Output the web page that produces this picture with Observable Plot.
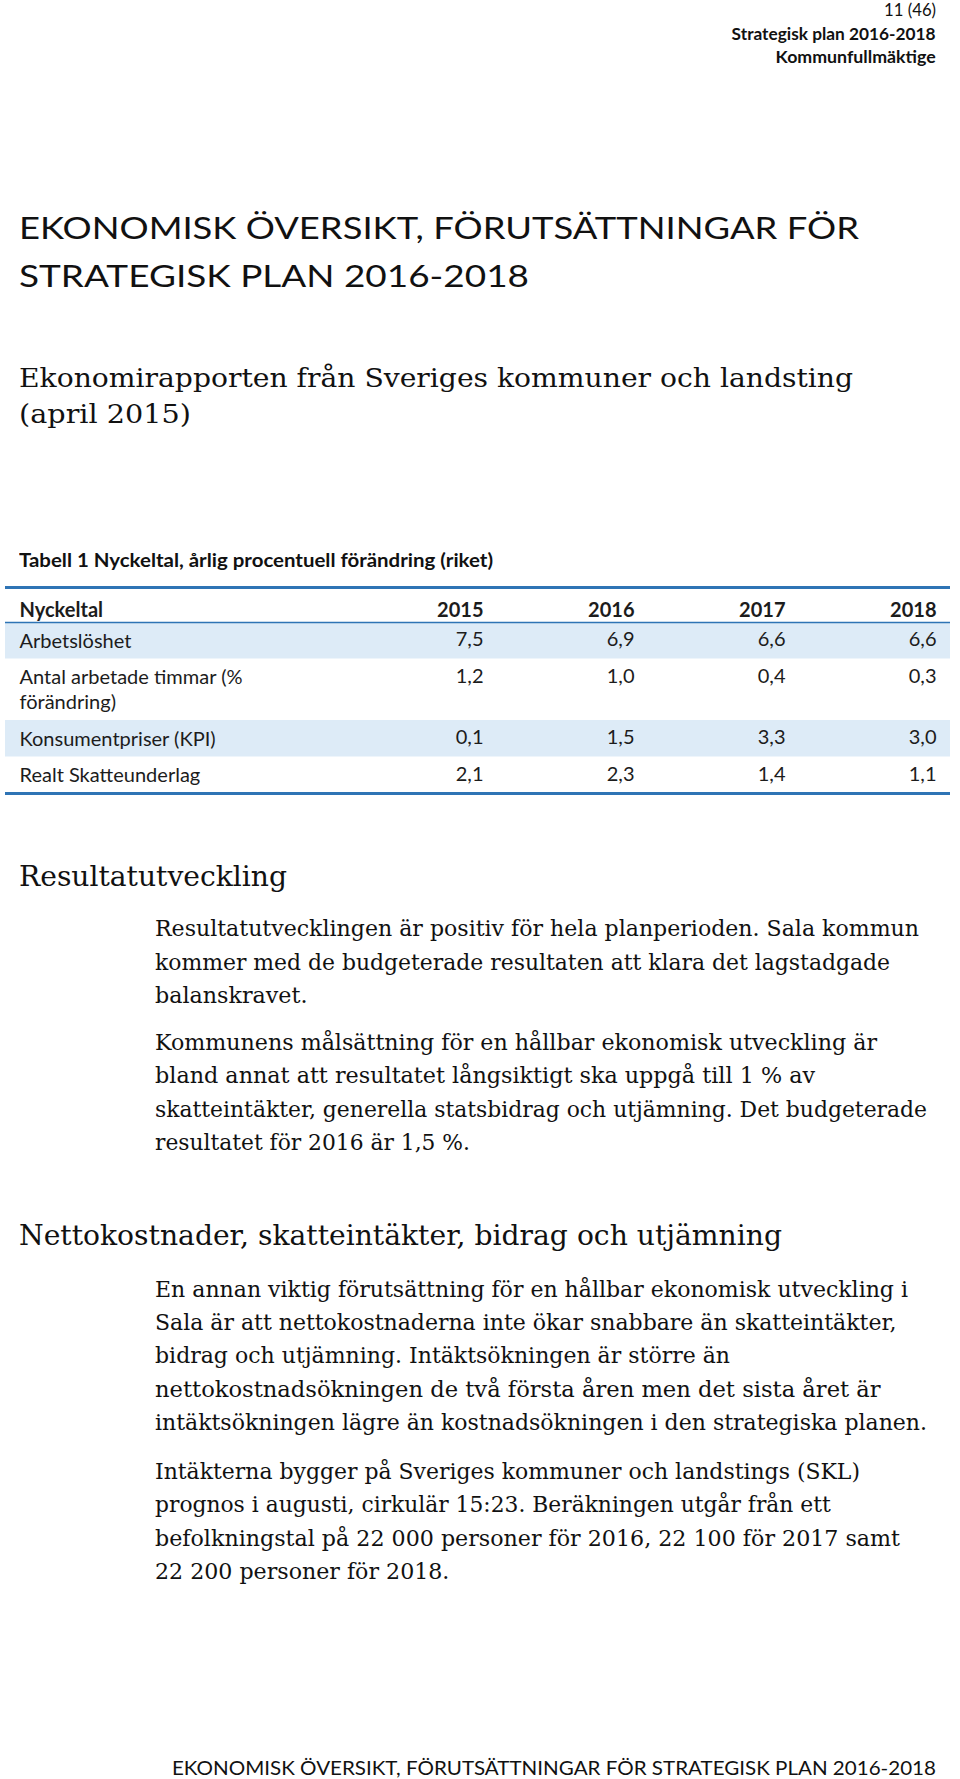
<!DOCTYPE html>
<html><head><meta charset="utf-8">
<script src="https://cdn.jsdelivr.net/npm/d3@7"></script>
<script src="https://cdn.jsdelivr.net/npm/@observablehq/plot@0.6"></script>
<style>
html,body{margin:0;padding:0;background:#fff;}
#page{position:relative;width:960px;height:1779px;overflow:hidden;background:#fff;}
.ln{position:absolute;white-space:pre;color:#111;margin:0;padding:0;}
#table{position:absolute;left:0;top:580px;width:960px;}
</style></head><body><div id="page"><div id="table"></div></div>
<script>
// ---------- data ----------
const pageHeader = ["11 (46)", "Strategisk plan 2016-2018", "Kommunfullmäktige"];
const titleLines = ["EKONOMISK ÖVERSIKT, FÖRUTSÄTTNINGAR FÖR", "STRATEGISK PLAN 2016-2018"];
const subtitleLines = ["Ekonomirapporten från Sveriges kommuner och landsting", "(april 2015)"];
const tableCaption = "Tabell 1 Nyckeltal, årlig procentuell förändring (riket)";
const headerLabel = "Nyckeltal";
const years = ["2015", "2016", "2017", "2018"];
const indicators = ["Arbetslöshet", "Antal arbetade timmar (%\nförändring)", "Konsumentpriser (KPI)", "Realt Skatteunderlag"];
const values2015 = [7.5, 1.2, 0.1, 2.1];
const values2016 = [6.9, 1.0, 1.5, 2.3];
const values2017 = [6.6, 0.4, 3.3, 1.4];
const values2018 = [6.6, 0.3, 3.0, 1.1];
const heading1 = "Resultatutveckling";
const para1 = ["Resultatutvecklingen är positiv för hela planperioden. Sala kommun",
  "kommer med de budgeterade resultaten att klara det lagstadgade",
  "balanskravet."];
const para2 = ["Kommunens målsättning för en hållbar ekonomisk utveckling är",
  "bland annat att resultatet långsiktigt ska uppgå till 1 % av",
  "skatteintäkter, generella statsbidrag och utjämning. Det budgeterade",
  "resultatet för 2016 är 1,5 %."];
const heading2 = "Nettokostnader, skatteintäkter, bidrag och utjämning";
const para3 = ["En annan viktig förutsättning för en hållbar ekonomisk utveckling i",
  "Sala är att nettokostnaderna inte ökar snabbare än skatteintäkter,",
  "bidrag och utjämning. Intäktsökningen är större än",
  "nettokostnadsökningen de två första åren men det sista året är",
  "intäktsökningen lägre än kostnadsökningen i den strategiska planen."];
const para4 = ["Intäkterna bygger på Sveriges kommuner och landstings (SKL)",
  "prognos i augusti, cirkulär 15:23. Beräkningen utgår från ett",
  "befolkningstal på 22 000 personer för 2016, 22 100 för 2017 samt",
  "22 200 personer för 2018."];
const footer = "EKONOMISK ÖVERSIKT, FÖRUTSÄTTNINGAR FÖR STRATEGISK PLAN 2016-2018";

// ---------- page text layout ----------
const page = document.getElementById("page");
const canvas = document.createElement("canvas");
const ctx = canvas.getContext("2d");
const SANS = {family: '"Lato", "Open Sans", sans-serif', cap: 0.7165};
const SERIF = {family: '"DejaVu Serif", "Liberation Serif", serif', cap: 0.729};

function place(text, o) {
  const f = o.f;
  const size = o.cap / f.cap;
  const font = `${o.weight || 400} ${size}px ${f.family}`;
  ctx.font = font;
  const m = ctx.measureText(text);
  const A = m.fontBoundingBoxAscent || size * 0.95;
  const D = m.fontBoundingBoxDescent || size * 0.25;
  const sx = o.w ? o.w / m.width : 1;
  const el = document.createElement("div");
  el.className = "ln";
  el.textContent = text;
  el.style.font = font;
  el.style.lineHeight = (A + D) + "px";
  el.style.top = (o.y - A) + "px";
  if (o.align === "right") {
    el.style.right = (960 - o.x) + "px";
    el.style.transformOrigin = "100% 0";
  } else {
    el.style.left = o.x + "px";
    el.style.transformOrigin = "0 0";
  }
  el.style.transform = `scaleX(${sx})`;
  page.appendChild(el);
}

// header
place(pageHeader[0], {f: SANS, x: 936, y: 16, cap: 12, w: 52, align: "right"});
place(pageHeader[1], {f: SANS, weight: 700, x: 936, y: 39.5, cap: 12.3, w: 204, align: "right"});
place(pageHeader[2], {f: SANS, weight: 700, x: 936, y: 63, cap: 12.3, w: 160, align: "right"});
// title
place(titleLines[0], {f: SANS, weight: 400, x: 19.3, y: 239, cap: 21.5, w: 840});
place(titleLines[1], {f: SANS, weight: 400, x: 19.3, y: 286.5, cap: 21.5, w: 510});
// subtitle
place(subtitleLines[0], {f: SERIF, x: 19.3, y: 386.5, cap: 18.3, w: 834});
place(subtitleLines[1], {f: SERIF, x: 19.3, y: 423, cap: 18.3, w: 172});
// table caption
place(tableCaption, {f: SANS, weight: 700, x: 19.3, y: 567, cap: 13.5, w: 474});
// section 1
place(heading1, {f: SERIF, x: 19.3, y: 886, cap: 21, w: 268});
const p1y = [936, 969.5, 1003], p1w = [764, 735, 152.5];
para1.forEach((t, i) => place(t, {f: SERIF, x: 155, y: p1y[i], cap: 16, w: p1w[i]}));
const p2y = [1049.5, 1083, 1116.5, 1150], p2w = [722, 660, 772, 315];
para2.forEach((t, i) => place(t, {f: SERIF, x: 155, y: p2y[i], cap: 16, w: p2w[i]}));
// section 2
place(heading2, {f: SERIF, x: 19.3, y: 1245, cap: 21, w: 763});
const p3y = [1296.5, 1330, 1363, 1396.5, 1430], p3w = [753, 741.5, 575, 725.6, 772];
para3.forEach((t, i) => place(t, {f: SERIF, x: 155, y: p3y[i], cap: 16, w: p3w[i]}));
const p4y = [1478.5, 1512, 1545.5, 1579], p4w = [705, 675.7, 745, 294.4];
para4.forEach((t, i) => place(t, {f: SERIF, x: 155, y: p4y[i], cap: 16, w: p4w[i]}));
// footer
place(footer, {f: SANS, x: 936, y: 1775, cap: 14, w: 764, align: "right"});

// ---------- table (Observable Plot) ----------
const seriesByYear = [values2015, values2016, values2017, values2018];
const fmt = v => v.toFixed(1).replace(".", ",");
const headerH = 35, pad = 11.5, lineStep = 25;
let acc = headerH;
const rows = indicators.map((label, i) => {
  const n = label.split("\n").length;
  const h = pad + lineStep * n;
  const r = {label, i, y1: acc, y2: acc + h, yc: acc + h / 2, yFirst: acc + pad / 2 + lineStep / 2};
  acc += h;
  return r;
});
const totalH = acc;
const cells = rows.flatMap(r => years.map((yr, j) => ({year: yr, value: seriesByYear[j][r.i], y: r.yFirst})));

// table font size matched to the reference label widths
const labelTargets = [110, 226, 196, 181];
ctx.font = `400 20px "Lato"`;
const measured = indicators.map(s => ctx.measureText(s.split("\n")[0]).width);
const fs = 20 * d3.sum(labelTargets) / d3.sum(measured);

const blue = "#2e74b5";
const ink = "#1c1c1c";
const chart = Plot.plot({
  width: 960,
  height: 220,
  marginLeft: 5,
  marginRight: 10,
  marginTop: 7,
  marginBottom: 7,
  x: {type: "point", domain: years, range: [482.5, 937], padding: 0, axis: null},
  y: {type: "linear", domain: [0, totalH], range: [7, 7 + totalH], axis: null},
  style: {fontFamily: "Lato, 'Open Sans', sans-serif", fontSize: fs + "px", background: "transparent", color: ink},
  marks: [
    Plot.rect(rows.filter(r => r.i % 2 === 0), {y1: "y1", y2: "y2", fill: "#ddebf7"}),
    Plot.ruleY([0, totalH], {stroke: blue, strokeWidth: 3}),
    Plot.ruleY([headerH], {stroke: blue, strokeWidth: 1.3}),
    Plot.text([headerLabel], {frameAnchor: "left", dx: 14, y: () => headerH / 2, dy: 5.5, text: d => d, fontWeight: "bold", textAnchor: "start", fill: ink}),
    Plot.text(years, {x: d => d, y: () => headerH / 2, dy: 5.5, text: d => d, fontWeight: "bold", textAnchor: "end", fill: ink}),
    Plot.text(rows, {frameAnchor: "left", dx: 14, y: "yc", dy: -1, text: "label", textAnchor: "start", lineHeight: lineStep / fs, fill: ink}),
    Plot.text(cells, {x: "year", y: "y", dy: -1, text: d => fmt(d.value), textAnchor: "end", fill: ink})
  ]
});
document.getElementById("table").appendChild(chart);
</script>
</body></html>
